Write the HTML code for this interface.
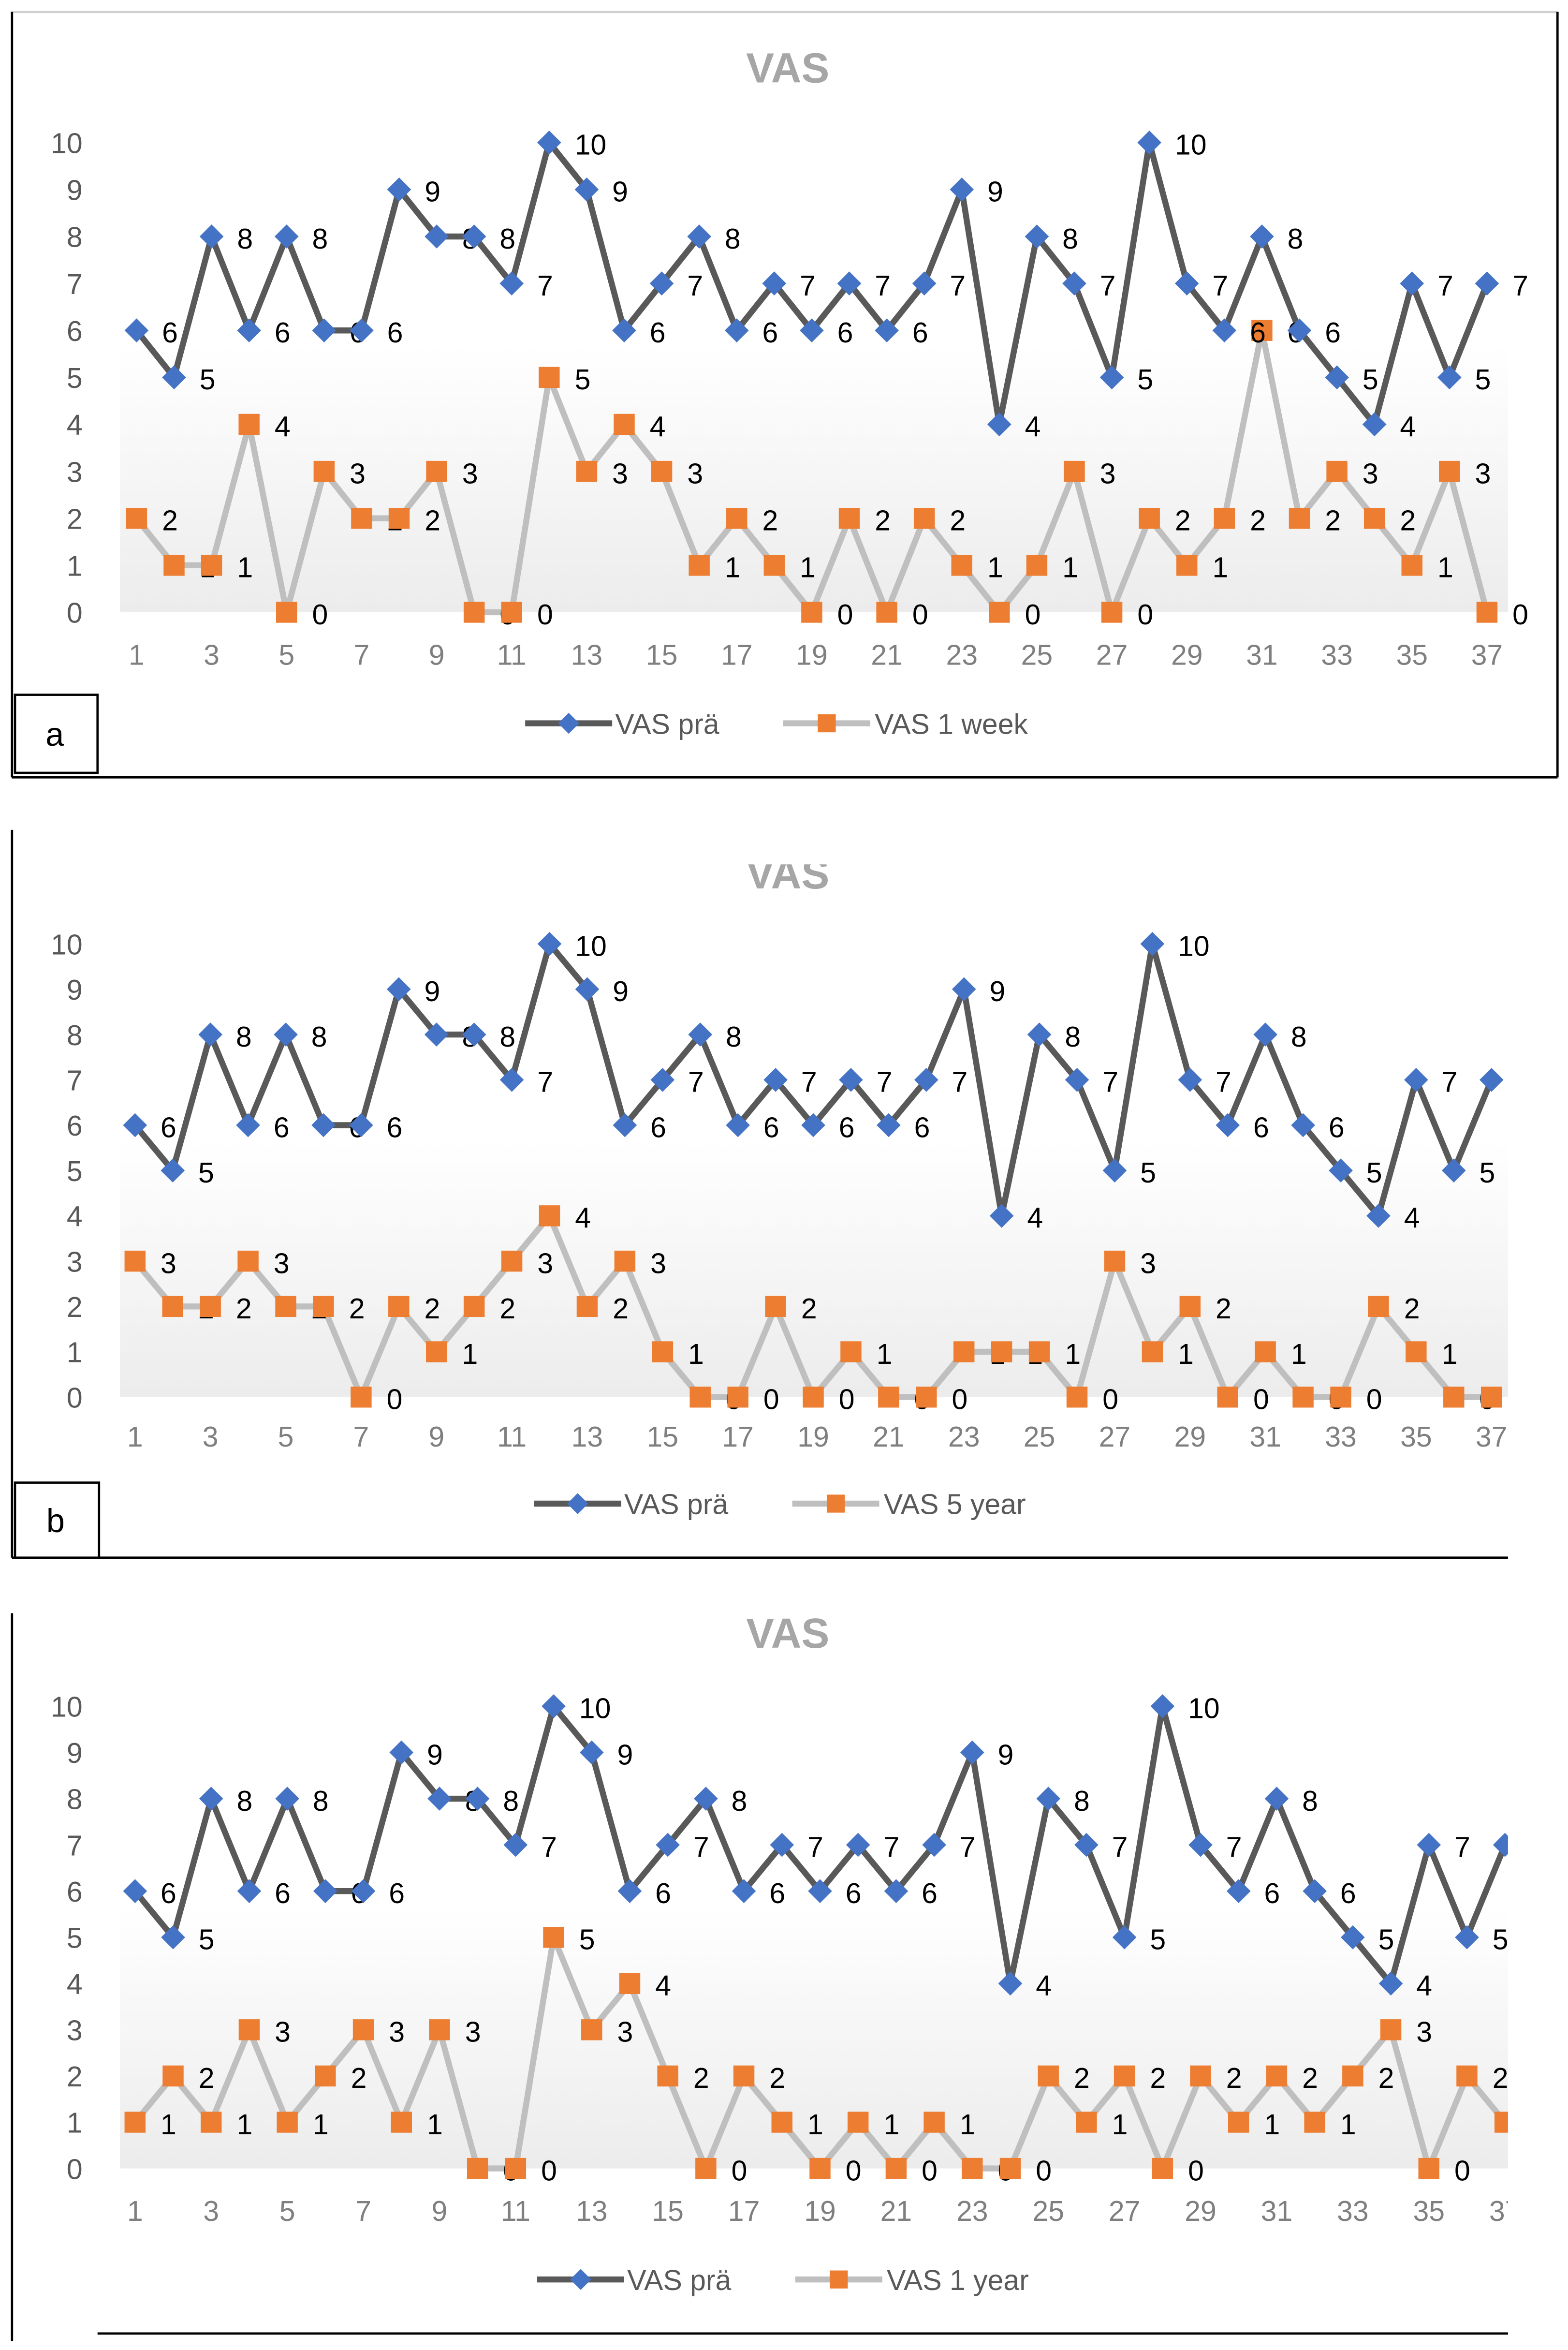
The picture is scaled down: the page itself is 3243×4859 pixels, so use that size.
<!DOCTYPE html>
<html><head><meta charset="utf-8"><style>
html,body{margin:0;padding:0;background:#fff;}
svg{display:block;font-family:"Liberation Sans",sans-serif;}
</style></head><body>
<svg id="root" width="3243" height="4859" viewBox="0 0 1045 1566" preserveAspectRatio="none" xmlns="http://www.w3.org/2000/svg">
<defs>
<linearGradient id="bg" x1="0" y1="0" x2="0" y2="1"><stop offset="0" stop-color="#ffffff"/><stop offset="1" stop-color="#ececec"/></linearGradient>
<clipPath id="clipA"><rect x="9" y="9" width="1028" height="508"/></clipPath>
<clipPath id="clipB"><rect x="9" y="576" width="996" height="461"/></clipPath>
<clipPath id="clipC"><rect x="9" y="1076" width="996" height="478"/></clipPath>
</defs>
</svg>
<script>
const categories = Array.from({length:37},(_,i)=>i+1);
const vasPre = [6,5,8,6,8,6,6,9,8,8,7,10,9,6,7,8,6,7,6,7,6,7,9,4,8,7,5,10,7,6,8,6,5,4,7,5,7];
const vas1Week = [2,1,1,4,0,3,2,2,3,0,0,5,3,4,3,1,2,1,0,2,0,2,1,0,1,3,0,2,1,2,6,2,3,2,1,3,0];
const vas5Year = [3,2,2,3,2,2,0,2,1,2,3,4,2,3,1,0,0,2,0,1,0,0,1,1,1,0,3,1,2,0,1,0,0,2,1,0,0];
const vas1Year = [1,2,1,3,1,2,3,1,3,0,0,5,3,4,2,0,2,1,0,1,0,1,0,0,2,1,2,0,2,1,2,1,2,3,0,2,1];
const yTicks = [0,1,2,3,4,5,6,7,8,9,10];
const xTicks = [1,3,5,7,9,11,13,15,17,19,21,23,25,27,29,31,33,35,37];

const NS="http://www.w3.org/2000/svg";
const root=document.getElementById('root');
function mk(tag,attrs,parent){const e=document.createElementNS(NS,tag);for(const k in attrs)e.setAttribute(k,attrs[k]);(parent||root).appendChild(e);return e;}

const panels=[
 {key:'a',title:'VAS',titleY:55,y0:408,y10:95,x1:91,x37:991,xLabY:443,legY:482,second:vas1Week,secName:'VAS 1 week',clip:'clipA',plotTop:230,plotRight:1005,legX:350},
 {key:'b',title:'VAS',titleY:592,y0:931,y10:629,x1:90,x37:994,xLabY:964,legY:1002,second:vas5Year,secName:'VAS 5 year',clip:'clipB',plotTop:760,plotRight:1005,legX:356},
 {key:'c',title:'VAS',titleY:1098,y0:1445,y10:1137,x1:90,x37:1003,xLabY:1480,legY:1519,second:vas1Year,secName:'VAS 1 year',clip:'clipC',plotTop:1270,plotRight:1005,legX:358}
];

// frames
mk('rect',{x:8,y:8,width:1030,height:510,fill:'none',stroke:'#d0d0d0','stroke-width':1.5});
mk('line',{x1:8,y1:8,x2:8,y2:518,stroke:'#000','stroke-width':1.5});
mk('line',{x1:8,y1:518,x2:1038,y2:518,stroke:'#000','stroke-width':1.5});
mk('line',{x1:1038,y1:8,x2:1038,y2:518,stroke:'#000','stroke-width':1.5});
mk('line',{x1:8,y1:553,x2:8,y2:1038,stroke:'#000','stroke-width':1.5});
mk('line',{x1:8,y1:1038,x2:1005,y2:1038,stroke:'#000','stroke-width':1.5});
mk('line',{x1:8,y1:1075,x2:8,y2:1560,stroke:'#000','stroke-width':1.5});
mk('line',{x1:65,y1:1555,x2:1005,y2:1555,stroke:'#000','stroke-width':1.5});

panels.forEach(p=>{
  const g=mk('g',{'clip-path':'url(#'+p.clip+')'});
  
  
  const xs=v=>p.x1+(v-1)*(p.x37-p.x1)/36;
  const ys=v=>p.y0-v*(p.y0-p.y10)/10;
  mk('rect',{x:80,y:p.plotTop,width:p.plotRight-80,height:p.y0-p.plotTop,fill:'url(#bg)'},g);
  const t=mk('text',{x:525,y:p.titleY,'text-anchor':'middle','font-size':28,'font-weight':'bold',fill:'#a6a6a6'},g);
  t.textContent=p.title;
  
  
  yTicks.forEach(v=>{
    const e=mk('text',{x:55,y:ys(v)+7,'text-anchor':'end','font-size':19,fill:'#595959'},g);
    e.textContent=v;
    
    
  });
  xTicks.forEach(v=>{
    const e=mk('text',{x:xs(v),y:p.xLabY,'text-anchor':'middle','font-size':19,fill:'#7f7f7f'},g);
    e.textContent=v;
    
    
  });
  const series=[{d:p.second,color:'#bfbfbf',mark:'sq',name:'second'},{d:vasPre,color:'#595959',mark:'dia',name:'pre'}];
  series.forEach(s=>{
    const pts=s.d.map((v,i)=>xs(categories[i])+','+ys(v)).join(' ');
    const l=mk('polyline',{points:pts,fill:'none',stroke:s.color,'stroke-width':4,'stroke-linejoin':'round'},g);
    
    
  });
  series.forEach(s=>{
    s.d.forEach((v,i)=>{
      const cx=xs(categories[i]),cy=ys(v);
      let m;
      if(s.mark==='sq') m=mk('rect',{x:cx-7,y:cy-7,width:14,height:14,fill:'#ed7d31'},g);
      else m=mk('polygon',{points:`${cx},${cy-8} ${cx+8},${cy} ${cx},${cy+8} ${cx-8},${cy}`,fill:'#4472c4'},g);
      
      
      const tl=mk('text',{x:cx+17,y:cy+8,'font-size':19,fill:'#000'},g);
      tl.textContent=v;
      
      
    });
  });
  // legend
  const lg=mk('g',{},g);
  
  
  const lx=p.legX;
  mk('line',{x1:lx,y1:p.legY,x2:lx+58,y2:p.legY,stroke:'#595959','stroke-width':4},lg);
  mk('polygon',{points:`${lx+29},${p.legY-7} ${lx+36},${p.legY} ${lx+29},${p.legY+7} ${lx+22},${p.legY}`,fill:'#4472c4'},lg);
  const t1=mk('text',{x:lx+60,y:p.legY+7,'font-size':19,fill:'#595959'},lg);t1.textContent='VAS prä';
  const lx2=lx+172;
  mk('line',{x1:lx2,y1:p.legY,x2:lx2+58,y2:p.legY,stroke:'#bfbfbf','stroke-width':4},lg);
  mk('rect',{x:lx2+23,y:p.legY-6,width:12,height:12,fill:'#ed7d31'},lg);
  const t2=mk('text',{x:lx2+61,y:p.legY+7,'font-size':19,fill:'#595959'},lg);t2.textContent=p.secName;
});

// panel letter boxes
[['a',10,463,55,52],['b',10,988,56,50]].forEach(b=>{
  const r=mk('rect',{x:b[1],y:b[2],width:b[3],height:b[4],fill:'#fff',stroke:'#000','stroke-width':1.5});
  
  
  const t=mk('text',{x:b[1]+b[3]/2-1,y:b[2]+b[4]/2+8,'text-anchor':'middle','font-size':22,fill:'#000'});
  t.textContent=b[0];
  
  
});
</script>
</body></html>
